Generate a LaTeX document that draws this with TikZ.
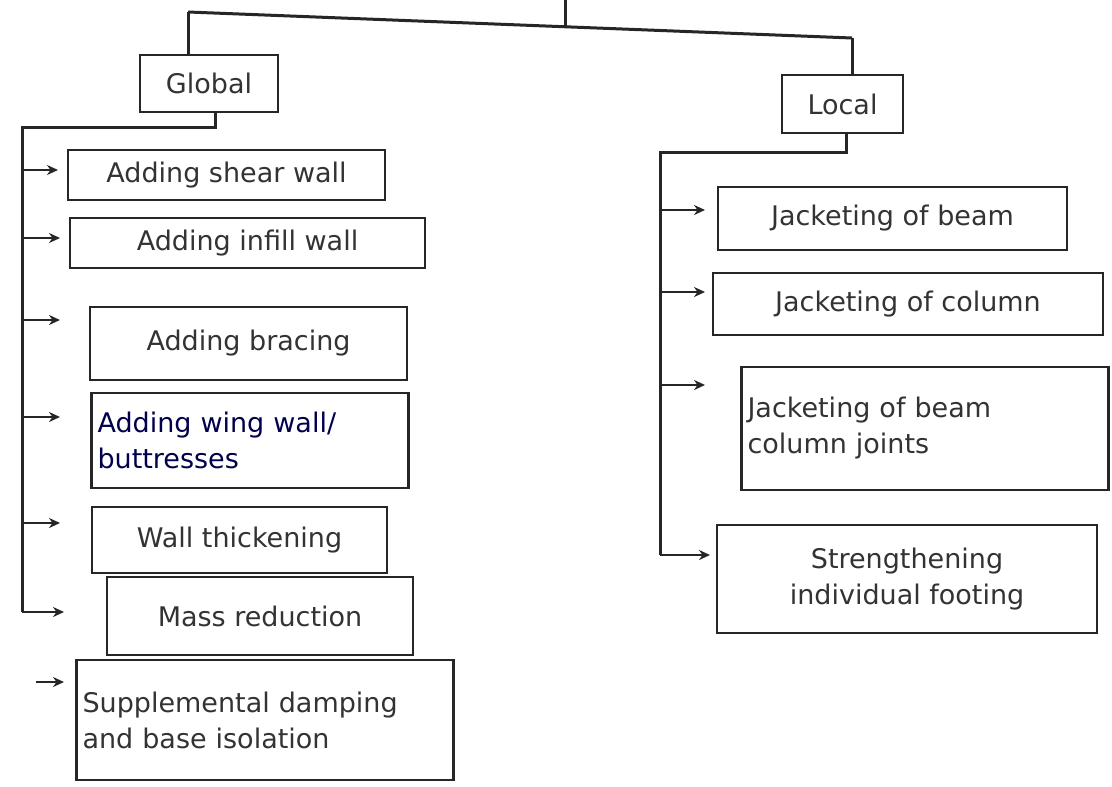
\documentclass[tikz,border=0pt]{standalone}
\usepackage{fontspec}
\setmainfont{DejaVu Sans}
\usetikzlibrary{arrows.meta}
\begin{document}
\begin{tikzpicture}[x=1pt,y=-1pt,
  ink/.style={draw=black!85, line width=3pt},
  box/.style={draw=black!85, line width=2.8pt, text=black!80,
    font=\fontsize{27}{36}\selectfont, inner sep=6pt, align=left},
  arr/.style={-{Stealth[length=11pt,width=10pt]}, line width=2.4pt, draw=black!85}]
\useasboundingbox (0,0) rectangle (1112,787);
\fill[white] (0,0) rectangle (1112,787);

% root connector
\coordinate (root) at (565,0);
\coordinate (rootj) at (565,27);
\coordinate (gl) at (188,12);
\coordinate (lr) at (852,38);
\draw[ink] (root) -- (rootj);
\draw[ink] (gl) -- (lr);

% Global / Local
\node[box, align=center, minimum width=138pt, minimum height=57pt] (G) at (209,83.5) {Global};
\node[box, align=center, minimum width=121pt, minimum height=58pt] (L) at (842.5,104) {Local};
\draw[ink] (gl) -- (gl |- G.north);
\draw[ink] (lr) -- (lr |- L.north);

% Global items
\node[box, minimum width=317pt, minimum height=50pt] (g1) at (226.5,175) {Adding shear wall};
\node[box, minimum width=355pt, minimum height=50pt] (g2) at (247.5,243) {Adding infill wall};
\node[box, minimum width=317pt, minimum height=73pt] (g3) at (248.5,343.5) {Adding bracing};
\node[box, text=blue!30!black, text width=305pt, minimum height=95pt] (g4) at (250,440.5) {Adding wing wall/\\buttresses};
\node[box, minimum width=295pt, minimum height=66pt] (g5) at (239.5,540) {Wall thickening};
\node[box, minimum width=306pt, minimum height=78pt] (g6) at (260,616) {Mass reduction};
\node[box, text width=365pt, minimum height=120pt] (g7) at (265,720) {Supplemental damping\\and base isolation};

% Local items
\node[box, minimum width=349pt, minimum height=63pt] (l1) at (892.5,218.5) {Jacketing of beam};
\node[box, minimum width=390pt, minimum height=62pt] (l2) at (908,304) {Jacketing of column};
\node[box, text width=355pt, minimum height=123pt] (l3) at (925,428.5) {Jacketing of beam\\column joints};
\node[box, align=center, minimum width=380pt, minimum height=108pt] (l4) at (907,579) {Strengthening\\individual footing};

% Global trunk
\coordinate (gt) at (22,127);
\coordinate (gb) at (22,612);
\draw[ink] ([xshift=6pt]G.south) |- (gt) -- (gb);
\draw[arr] (22,170) -- ++(36,0);
\draw[arr] (22,238) -- ++(38,0);
\draw[arr] (22,320) -- ++(38,0);
\draw[arr] (22,417) -- ++(38,0);
\draw[arr] (22,523) -- ++(38,0);
\draw[arr] (gb) -- ++(42,0);
\coordinate (g7a) at (36,682);
\draw[arr] (g7a) -- ++(28,0);

% Local trunk
\coordinate (lt) at (660,152);
\coordinate (lb) at (660,555);
\draw[ink] ([xshift=4pt]L.south) |- (lt) -- (lb);
\draw[arr] (660,210) -- ++(45,0);
\draw[arr] (660,292) -- ++(45,0);
\draw[arr] (660,385) -- ++(45,0);
\draw[arr] (lb) -- ++(50,0);
\end{tikzpicture}
\end{document}
